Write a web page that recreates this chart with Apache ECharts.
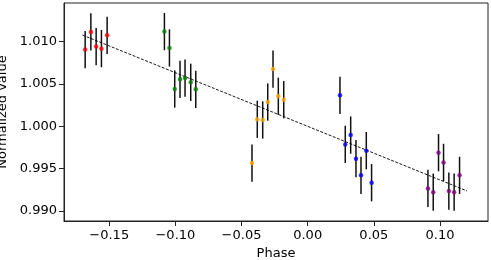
<!DOCTYPE html>
<html>
<head>
<meta charset="utf-8">
<script src="https://cdn.jsdelivr.net/npm/echarts@6/dist/echarts.min.js"></script>
<style>
html,body{margin:0;padding:0;background:#fff;}
#chart{width:491px;height:260px;}
</style>
</head>
<body>
<div id="chart"></div>
<script>
// ---- data ----
const redPhase    = [-0.1682, -0.1639, -0.1599, -0.1559, -0.1516];
const redValue    = [1.00907, 1.01115, 1.00942, 1.00918, 1.01076];
const greenPhase  = [-0.1083, -0.1045, -0.1005, -0.0965, -0.0927, -0.0884, -0.0846];
const greenValue  = [1.01119, 1.00926, 1.00441, 1.00556, 1.00571, 1.00520, 1.00437];
const orangePhase = [-0.0421, -0.0381, -0.0340, -0.0302, -0.0262, -0.0222, -0.0181];
const orangeValue = [0.99566, 1.00083, 1.00075, 1.00287, 1.00677, 1.00355, 1.00315];
const bluePhase   = [0.0244, 0.0284, 0.0325, 0.0365, 0.0403, 0.0443, 0.0483];
const blueValue   = [1.00366, 0.99787, 0.99897, 0.99618, 0.99421, 0.99713, 0.99334];
const purplePhase = [0.0909, 0.0949, 0.0989, 0.1027, 0.1067, 0.1107, 0.1148];
const purpleValue = [0.99267, 0.99223, 0.99689, 0.99574, 0.99235, 0.99223, 0.99421];
const errorHalf   = 0.0022;
const trendPhase  = [-0.1702, 0.1205];
const trendValue  = [1.01078, 0.99237];
const xTicks = [-0.15, -0.10, -0.05, 0.00, 0.05, 0.10];
const yTicks = [0.990, 0.995, 1.000, 1.005, 1.010];

const groups = [
  {x: redPhase, y: redValue, color: '#ff0000'},
  {x: greenPhase, y: greenValue, color: '#008000'},
  {x: orangePhase, y: orangeValue, color: '#ffa500'},
  {x: bluePhase, y: blueValue, color: '#0000ff'},
  {x: purplePhase, y: purpleValue, color: '#800080'}
];

const font = 'DejaVu Sans';
const series = [];
groups.forEach(g => {
  const pts = g.x.map((v, i) => [v, g.y[i], errorHalf]);
  series.push({
    type: 'custom',
    data: pts,
    z: 2,
    renderItem: function (params, api) {
      const x = api.value(0), y = api.value(1), e = api.value(2);
      const p1 = api.coord([x, y - e]);
      const p2 = api.coord([x, y + e]);
      return {
        type: 'line',
        shape: {x1: p1[0], y1: p1[1], x2: p2[0], y2: p2[1]},
        style: {stroke: '#111', lineWidth: 1.5}
      };
    },
    encode: {x: 0, y: 1},
    silent: true
  });
});
series.push({
  type: 'line',
  data: trendPhase.map((v, i) => [v, trendValue[i]]),
  symbol: 'none',
  z: 3,
  lineStyle: {color: '#000', width: 0.9, type: [3, 1.5]},
  silent: true
});
groups.forEach(g => {
  series.push({
    type: 'scatter',
    data: g.x.map((v, i) => [v, g.y[i]]),
    symbol: 'circle',
    symbolSize: 4.5,
    z: 4,
    itemStyle: {color: g.color},
    silent: true
  });
});

const chart = echarts.init(document.getElementById('chart'));
chart.setOption({
  animation: false,
  backgroundColor: '#fff',
  grid: {left: 64, right: 3, top: 3, bottom: 39, show: true, borderColor: '#222', borderWidth: 1,
         containLabel: false, outerBoundsMode: 'none'},
  xAxis: {
    type: 'value',
    min: -0.1842, max: 0.1363,
    name: 'Phase',
    nameLocation: 'middle',
    nameGap: 24,
    nameTextStyle: {fontFamily: font, fontSize: 13, color: '#000'},
    axisLine: {show: true, onZero: false, lineStyle: {color: '#222', width: 1}},
    axisTick: {show: true, length: 5, customValues: xTicks, lineStyle: {color: '#222'}},
    axisLabel: {
      customValues: xTicks,
      margin: 8,
      fontFamily: font, fontSize: 13, color: '#000',
      formatter: v => (v < 0 ? '\u2212' : '') + Math.abs(v).toFixed(2)
    },
    splitLine: {show: false}
  },
  yAxis: {
    type: 'value',
    min: 0.98882, max: 1.01457,
    name: 'Normalized value',
    nameLocation: 'middle',
    nameGap: 48,
    nameTextStyle: {fontFamily: font, fontSize: 13, color: '#000'},
    axisLine: {show: true, onZero: false, lineStyle: {color: '#222', width: 1}},
    axisTick: {show: true, length: 5, customValues: yTicks, lineStyle: {color: '#222'}},
    axisLabel: {
      customValues: yTicks,
      margin: 7,
      fontFamily: font, fontSize: 13, color: '#000',
      formatter: v => v.toFixed(3)
    },
    splitLine: {show: false}
  },
  series: series
});
</script>
</body>
</html>
